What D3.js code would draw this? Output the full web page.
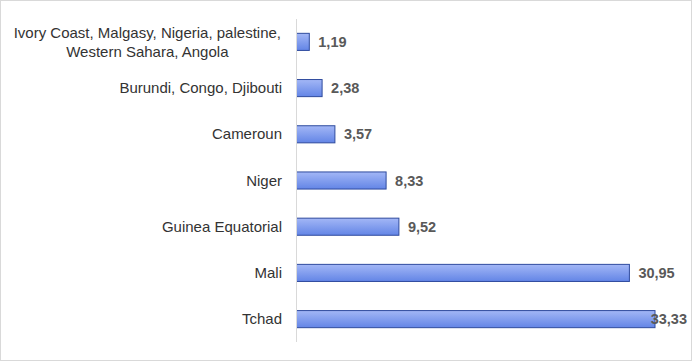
<!DOCTYPE html>
<html>
<head>
<meta charset="utf-8">
<script src="https://cdn.jsdelivr.net/npm/d3@7"></script>
<style>
  body { margin: 0; background: #fff; }
  svg { display: block; }
</style>
</head>
<body>
<div id="chart"></div>
<script>
// data
var countries = [
  ['Ivory Coast, Malgasy, Nigeria, palestine,', 'Western Sahara, Angola'],
  ['Burundi, Congo, Djibouti'],
  ['Cameroun'],
  ['Niger'],
  ['Guinea Equatorial'],
  ['Mali'],
  ['Tchad']
]
var percents = [1.19, 2.38, 3.57, 8.33, 9.52, 30.95, 33.33]
var valueLabels = ['1,19', '2,38', '3,57', '8,33', '9,52', '30,95', '33,33']

var width = 692
var height = 361
var axisX = 296.5
var plotTop = 19
var plotBottom = 342
var catFont = 15

var rows = countries.map(function (c, i) {
  return { id: i, name: c, value: percents[i], label: valueLabels[i] }
})

var svg = d3.select('#chart').append('svg')
  .attr('width', width)
  .attr('height', height)

svg.append('rect')
  .attr('x', 0.5).attr('y', 0.5)
  .attr('width', width - 1).attr('height', height - 1)
  .attr('fill', '#fff')
  .attr('stroke', '#d9d9d9')

var defs = svg.append('defs')
var grad = defs.append('linearGradient')
  .attr('id', 'barGrad')
  .attr('x1', 0).attr('y1', 0).attr('x2', 0).attr('y2', 1)
grad.append('stop').attr('offset', '0%').attr('stop-color', '#a3b7f6')
grad.append('stop').attr('offset', '100%').attr('stop-color', '#6385e6')

var x = d3.scaleLinear()
  .domain([0, 33.33])
  .range([axisX, 655])

var y = d3.scaleBand()
  .domain(rows.map(function (d) { return d.id }))
  .range([plotTop, plotBottom])
  .paddingInner(0.63)
  .paddingOuter(0.31)

// category labels
svg.append('g').selectAll('text')
  .data(rows)
  .enter()
  .append('text')
  .attr('font-family', 'Liberation Sans, Arial, sans-serif')
  .attr('font-size', catFont)
  .attr('fill', '#333')
  .attr('text-anchor', 'end')
  .attr('x', 282)
  .attr('y', function (d) { return y(d.id) + y.bandwidth() / 2 + 5 })
  .text(function (d) { return d.name.length == 1 ? d.name[0] : '' })

// the wrapped one, lines centred on each other
var multi = rows[0]
var blockRight = 281
var tmp = svg.append('text')
  .attr('font-family', 'Liberation Sans, Arial, sans-serif')
  .attr('font-size', catFont)
  .text(multi.name[0])
var w0 = tmp.node().getComputedTextLength()
tmp.remove()
var cx = blockRight - w0 / 2
multi.name.forEach(function (line, j) {
  svg.append('text')
    .attr('font-family', 'Liberation Sans, Arial, sans-serif')
    .attr('font-size', catFont)
    .attr('fill', '#333')
    .attr('text-anchor', 'middle')
    .attr('x', cx)
    .attr('y', y(multi.id) + y.bandwidth() / 2 - 4 + j * 19)
    .text(line)
})

// bars
svg.append('g').selectAll('rect')
  .data(rows)
  .enter()
  .append('rect')
  .attr('x', x(0))
  .attr('y', function (d) { return y(d.id) })
  .attr('width', function (d) { return x(d.value) - x(0) })
  .attr('height', y.bandwidth())
  .attr('fill', 'url(#barGrad)')
  .attr('stroke', '#2f4b9e')
  .attr('stroke-width', 1)

// axis line
svg.append('line')
  .attr('x1', axisX).attr('x2', axisX)
  .attr('y1', plotTop).attr('y2', plotBottom)
  .attr('stroke', '#d9d9d9')

// value labels
svg.append('g').selectAll('text')
  .data(rows)
  .enter()
  .append('text')
  .attr('font-family', 'Liberation Sans, Arial, sans-serif')
  .attr('font-size', 14.5)
  .attr('font-weight', 'bold')
  .attr('fill', '#595959')
  .attr('y', function (d) { return y(d.id) + y.bandwidth() / 2 + 5 })
  .text(function (d) { return d.label })
  .attr('x', function (d) {
    var w = this.getComputedTextLength()
    return Math.min(x(d.value) + 9, width - 5 - w)
  })
</script>
</body>
</html>
